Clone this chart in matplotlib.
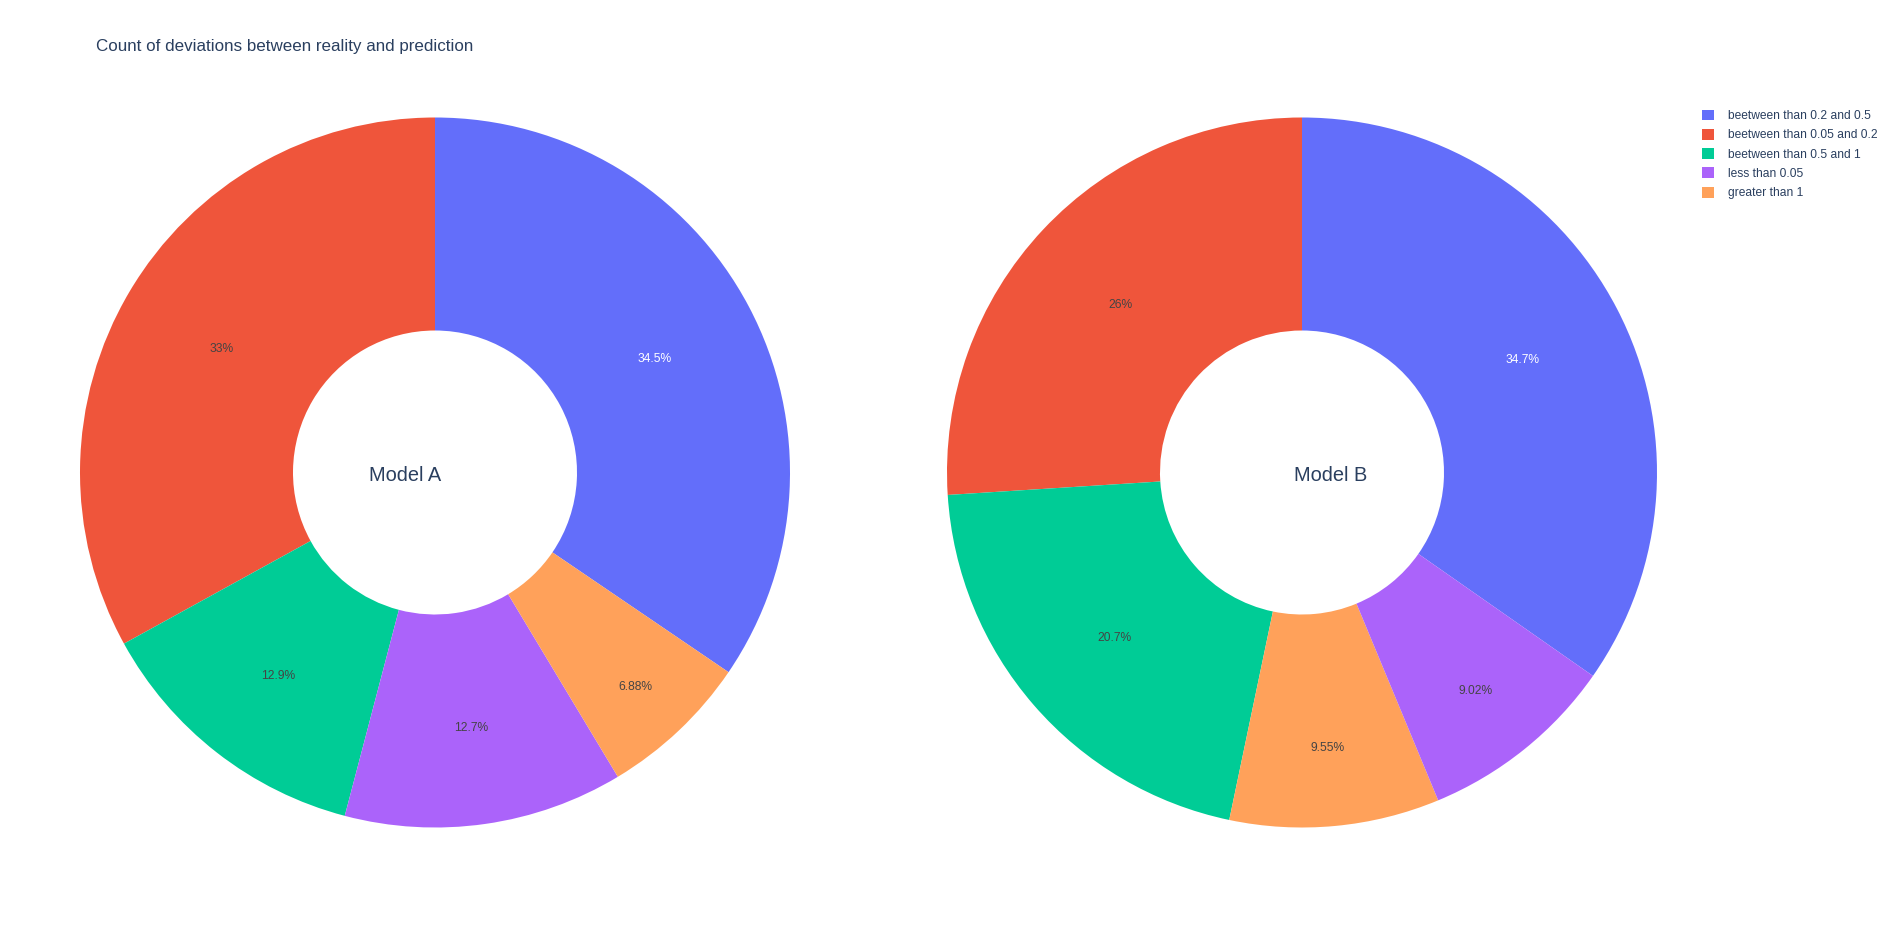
import math
import matplotlib
matplotlib.use("Agg")
import matplotlib.pyplot as plt
from matplotlib.patches import Patch

plt.rcParams['font.family'] = ['Liberation Sans', 'DejaVu Sans']

categories = ["beetween than 0.2 and 0.5", "beetween than 0.05 and 0.2",
              "beetween than 0.5 and 1", "less than 0.05", "greater than 1"]
colors = ["#636efa", "#EF553B", "#00cc96", "#ab63fa", "#FFA15A"]

model_a = [34.5, 33.0, 12.9, 12.7, 6.88]
model_b = [34.7, 26.0, 20.7, 9.02, 9.55]
names = ["Model A", "Model B"]
title = "Count of deviations between reality and prediction"

W, H = 1904, 925
fig = plt.figure(figsize=(W / 100, H / 100), dpi=100)

centers = [(435, 472.5), (1302, 472.5)]
R = 355
HOLE = 0.4
text_dark = "#444444"
title_col = "#2a3f5f"

for (cx, cy), vals, name, ann_x in zip(centers, [model_a, model_b], names, [405.5, 1330.5]):
    ax = fig.add_axes([(cx - R) / W, (H - cy - R) / H, 2 * R / W, 2 * R / H])
    # plotly draws counterclockwise in descending order, first slice ending at 12 o'clock
    order = sorted(range(len(vals)), key=lambda i: -vals[i])
    v = [vals[i] for i in order]
    c = [colors[i] for i in order]
    total = sum(v)
    start = 90 - 360 * v[0] / total
    wedges, texts, autotexts = ax.pie(
        v, colors=c, startangle=start, counterclock=True, radius=1,
        wedgeprops=dict(width=1 - HOLE, linewidth=0),
        autopct=lambda p: f"{p:.3g}%", pctdistance=0.7,
        textprops=dict(fontsize=8.64, color=text_dark))
    # plotly-like inside text placement (inscribed circle in slice)
    ring = 1 - HOLE
    for w, t, col, val in zip(wedges, autotexts, c, v):
        half = math.pi * val / total
        r_ins = min(1 / (1 + 1 / math.sin(half)), ring / 2)
        rc = 1 - r_ins
        mid = math.radians((w.theta1 + w.theta2) / 2)
        t.set_position((rc * math.cos(mid), rc * math.sin(mid) - 2.5 / R))
        t.set_color("white" if col == "#636efa" else text_dark)
    ax.set_xlim(-1, 1)
    ax.set_ylim(-1, 1)
    ax.set_aspect('equal')
    ax.axis('off')
    fig.text(ann_x / W, 1 - 476 / H, name, fontsize=14.4, color=title_col,
             ha='center', va='center')

fig.text(96 / W, 1 - 46 / H, title, fontsize=12.24, color=title_col,
         ha='left', va='center')

handles = [Patch(facecolor=col, edgecolor='none') for col in colors]
fig.legend(handles, categories, loc='upper left',
           bbox_to_anchor=(1702 / W, 1 - 109.5 / H), frameon=False,
           fontsize=8.64, labelcolor=title_col, handlelength=1.0,
           handleheight=1.0, handletextpad=1.17, labelspacing=0.57,
           borderaxespad=0, borderpad=0)

fig.savefig("out.png", dpi=100, facecolor="white")
